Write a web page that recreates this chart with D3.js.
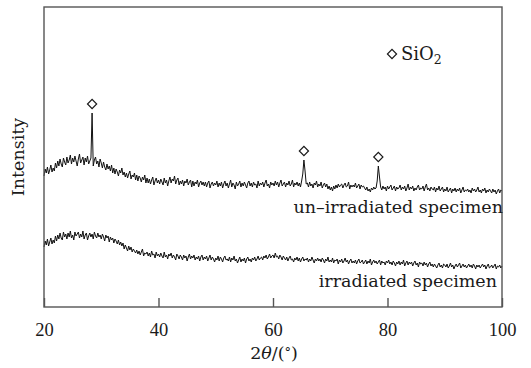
<!DOCTYPE html>
<html>
<head>
<meta charset="utf-8">
<script src="https://cdn.jsdelivr.net/npm/d3@7"></script>
<style>
  body { margin: 0; background: #fff; }
  svg { display: block; }
</style>
</head>
<body>
<div id="chart"></div>
<script>
// 2theta grid of the scan: 20 -> 100 deg, 0.2 deg step
const thetaStart = 20, thetaStep = 0.2;

// un-irradiated specimen, intensity (a.u.)
const unirradiated = [
  131,138,134,140,133,137,142,135,139,136,
  144,139,146,141,148,143,140,149,145,142,
  150,144,147,152,143,149,145,151,146,141,
  148,153,144,147,150,142,149,145,151,143,
  146,149,194,141,147,150,143,146,140,148,
  144,139,145,140,137,143,138,141,136,142,
  134,139,133,138,135,131,137,134,139,132,
  135,130,134,129,133,136,128,132,130,134,
  127,132,126,131,129,125,130,127,132,124,
  129,124,128,123,127,130,122,126,129,124,
  127,123,128,125,122,129,124,127,121,126,
  130,124,128,126,131,123,127,129,122,126,
  123,127,121,126,124,128,122,125,127,120,
  126,121,125,123,127,120,124,126,122,125,
  121,125,120,124,126,119,123,125,121,124,
  122,126,120,124,121,125,119,123,126,121,
  124,119,123,127,120,124,122,118,125,121,
  123,126,120,124,121,125,122,119,124,126,
  121,124,120,125,122,123,119,126,121,124,
  122,125,120,124,127,121,123,119,125,122,
  124,121,126,122,125,120,124,127,121,123,
  125,120,124,122,126,121,123,127,120,124,
  122,125,121,124,120,126,133,147,136,123,
  124,120,125,121,123,119,124,122,126,120,
  123,121,125,119,122,124,120,123,118,121,
  117,120,116,121,118,122,119,123,120,122,
  123,119,122,124,120,121,125,118,122,120,
  122,120,124,119,121,123,118,122,120,121,
  119,117,120,116,118,115,119,117,120,118,
  119,126,141,130,120,117,121,118,120,116,
  121,118,120,122,117,119,121,116,120,118,
  119,122,117,120,118,121,116,119,123,117,
  120,118,121,116,119,117,120,122,117,119,
  118,121,116,120,123,117,119,116,120,118,
  117,120,115,119,117,121,116,118,120,115,
  118,116,120,115,117,119,114,118,116,119,
  115,118,116,119,114,117,120,115,117,116,
  118,115,117,114,119,116,118,115,117,120,
  115,117,114,118,116,119,114,117,115,118,
  116,114,118,115,117,113,116,118,114,117,
  116
];

// irradiated specimen, intensity (a.u.)
const irradiated = [
  60,66,62,68,61,65,69,63,67,64,
  71,66,72,68,74,69,67,75,70,73,
  68,74,70,76,69,72,67,75,71,73,
  75,69,73,70,76,68,72,74,67,71,
  74,70,73,68,75,71,69,74,70,72,
  68,73,70,66,72,69,71,65,70,67,
  69,64,68,66,63,67,62,65,61,64,
  58,62,59,56,61,57,60,55,58,56,
  54,57,53,56,52,55,58,51,54,53,
  55,51,54,50,56,52,53,49,55,51,
  53,50,54,51,49,55,50,52,48,53,
  51,54,49,52,50,47,53,51,48,52,
  50,47,52,49,51,46,50,53,48,51,
  49,52,47,50,48,51,46,50,52,47,
  50,48,51,46,49,52,47,50,48,45,
  49,47,51,46,50,48,45,49,51,47,
  48,46,50,45,49,47,51,46,48,44,
  47,50,45,48,46,49,44,48,50,46,
  48,45,49,47,50,46,48,51,47,49,
  50,47,51,49,52,48,50,53,49,51,
  52,49,54,50,51,48,52,50,47,51,
  49,47,50,46,49,51,47,48,45,49,
  47,50,46,49,45,48,50,46,48,47,
  49,45,48,46,50,47,44,48,46,49,
  46,48,45,49,47,44,48,46,50,45,
  47,45,49,44,47,46,48,43,47,45,
  48,44,46,49,45,47,43,46,48,44,
  46,44,47,43,46,48,44,45,47,43,
  45,47,43,46,44,48,42,45,47,44,
  46,43,45,47,42,46,44,45,42,46,
  44,47,43,45,42,46,44,41,45,43,
  46,42,45,43,47,41,44,46,42,45,
  43,45,41,44,46,42,44,40,45,43,
  44,41,45,42,44,40,43,45,41,43,
  40,43,41,39,42,44,40,42,39,43,
  42,40,43,39,41,44,40,42,38,41,
  43,40,42,44,39,41,43,40,42,39,
  41,43,40,42,39,43,41,38,42,40,
  42,39,41,43,40,42,38,41,43,39,
  40,42,39,41,43,38,41,40,42,39,
  41
];

// SiO2 reflections marked on the un-irradiated pattern
const sio2Peaks = [28.4, 65.4, 78.4];
const xTicks = [20, 40, 60, 80, 100];

const W = 531, H = 368;
const svg = d3.select("#chart").append("svg")
  .attr("width", W).attr("height", H);

const x = d3.scaleLinear().domain([20, 100]).range([44, 502]);
const y = d3.scaleLinear().domain([0, 300]).range([307, 7]);

const serif = "'DejaVu Serif', serif";
const ink = "#1a1a1a";

const thetaOf = i => thetaStart + i * thetaStep;

// traces
const line = d3.line()
  .x((d, i) => x(thetaOf(i)))
  .y(d => y(d));

[unirradiated, irradiated].forEach(series => {
  svg.append("path")
    .datum(series)
    .attr("fill", "none")
    .attr("stroke", "#111")
    .attr("stroke-width", 1.0)
    .attr("d", line);
});

// frame
svg.append("rect")
  .attr("x", x(20)).attr("y", y(300))
  .attr("width", x(100) - x(20)).attr("height", y(0) - y(300))
  .attr("fill", "none").attr("stroke", "#555").attr("stroke-width", 1.4);

// bottom axis, ticks pointing inward
const xAxis = svg.append("g")
  .attr("transform", `translate(0,${y(0)})`)
  .call(d3.axisBottom(x).tickValues(xTicks).tickSize(-9).tickPadding(16));
xAxis.select(".domain").remove();
xAxis.selectAll(".tick line").attr("stroke", "#555").attr("stroke-width", 1.4);
xAxis.selectAll(".tick text")
  .attr("fill", ink)
  .style("font-family", "'Liberation Serif', serif")
  .style("font-size", "18.5px");

// diamonds above the SiO2 peaks
const diamond = d3.symbol().type(d3.symbolSquare).size(42);
svg.selectAll(".peak")
  .data(sio2Peaks)
  .enter().append("path")
  .attr("class", "peak")
  .attr("d", diamond)
  .attr("transform", d => {
    const i = Math.round((d - thetaStart) / thetaStep);
    return `translate(${x(d)},${y(unirradiated[i]) - 9}) rotate(45)`;
  })
  .attr("fill", "#fff").attr("stroke", ink).attr("stroke-width", 1.2);

// legend
svg.append("path")
  .attr("d", diamond)
  .attr("transform", "translate(392,54) rotate(45)")
  .attr("fill", "#fff").attr("stroke", ink).attr("stroke-width", 1.2);
const leg = svg.append("text")
  .attr("x", 401).attr("y", 60)
  .attr("fill", ink)
  .style("font-family", serif).style("font-size", "18px");
leg.append("tspan").text("SiO");
leg.append("tspan").attr("dy", 4).style("font-size", "12.5px").text("2");

// trace labels
svg.append("text")
  .attr("x", 503).attr("y", 213)
  .attr("text-anchor", "end")
  .attr("fill", ink)
  .style("font-family", serif).style("font-size", "17.5px")
  .text("un\u2013irradiated specimen");

svg.append("text")
  .attr("x", 497).attr("y", 287)
  .attr("text-anchor", "end")
  .attr("fill", ink)
  .style("font-family", serif).style("font-size", "17.5px")
  .text("irradiated specimen");

// axis titles
svg.append("text")
  .attr("transform", "translate(24,157) rotate(-90)")
  .attr("text-anchor", "middle")
  .attr("fill", ink)
  .style("font-family", serif).style("font-size", "17.5px")
  .text("Intensity");

const xt = svg.append("text")
  .attr("x", 274).attr("y", 359)
  .attr("text-anchor", "middle")
  .attr("fill", ink)
  .style("font-family", serif).style("font-size", "17.5px");
xt.append("tspan").text("2");
xt.append("tspan").style("font-style", "italic").text("\u03b8");
xt.append("tspan").text("/(");
xt.append("tspan").attr("dy", -2).style("font-size", "13px").text("\u00b0");
xt.append("tspan").attr("dy", 2).text(")");
</script>
</body>
</html>
